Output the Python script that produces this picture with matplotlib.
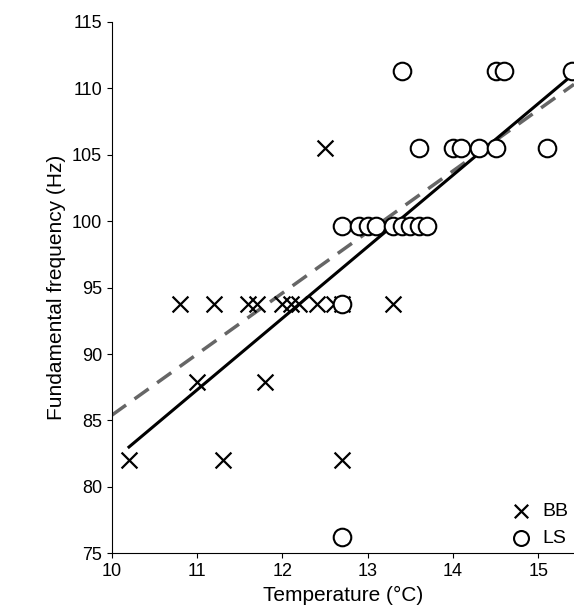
import numpy as np
from matplotlib import pyplot as plt

plt.rcParams['font.family'] = ['Liberation Sans', 'DejaVu Sans']

# BB (crosses)
bb_temp = [10.2, 10.8, 11.0, 11.2, 11.3, 11.6, 11.7, 11.8, 12.0, 12.1, 12.2,
           12.4, 12.5, 12.6, 12.7, 12.7, 13.3]
bb_freq = [82.0, 93.8, 87.9, 93.8, 82.0, 93.8, 93.8, 87.9, 93.8, 93.8, 93.8,
           93.8, 105.5, 93.8, 93.8, 82.0, 93.8]

# LS (circles)
ls_temp = [12.7, 12.7, 12.7, 12.9, 13.0, 13.1, 13.3, 13.4, 13.4, 13.5, 13.6,
           13.6, 13.7, 14.0, 14.1, 14.3, 14.5, 14.5, 14.6, 15.1, 15.4]
ls_freq = [76.2, 99.6, 93.8, 99.6, 99.6, 99.6, 99.6, 111.3, 99.6, 99.6, 99.6,
           105.5, 99.6, 105.5, 105.5, 105.5, 105.5, 111.3, 111.3, 105.5, 111.3]

# fitted lines (endpoints)
solid_x = [10.2, 15.4]
solid_y = [83.0, 111.0]
dash_x = [10.0, 15.42]
dash_y = [85.4, 110.3]

fig, ax = plt.subplots(figsize=(5.74, 6.08), dpi=100)
ax.plot(dash_x, dash_y, '--', color='#666666', lw=2.5, dashes=(5, 3))
ax.plot(solid_x, solid_y, '-k', lw=2.2)
ax.scatter(bb_temp, bb_freq, marker='x', s=130, c='k', lw=1.6, label='BB', zorder=3)
ax.scatter(ls_temp, ls_freq, marker='o', s=160, facecolors='white', edgecolors='k',
           lw=1.5, label='LS', zorder=3)

ax.set_xlim(10, 15.42)
ax.set_ylim(75, 115)
ax.set_xticks([10, 11, 12, 13, 14, 15])
ax.set_yticks(range(75, 116, 5))
ax.spines['top'].set_visible(False)
ax.spines['right'].set_visible(False)
ax.tick_params(labelsize=13)
ax.set_xlabel('Temperature (°C)', fontsize=15)
ax.set_ylabel('Fundamental frequency (Hz)', fontsize=15)
ax.legend(loc='lower right', frameon=False, fontsize=14, handletextpad=0.1,
          borderaxespad=0.1, borderpad=0.2, markerscale=0.85)
plt.subplots_adjust(left=0.195, right=1.0, top=0.964, bottom=0.09)
plt.savefig('out.png')
